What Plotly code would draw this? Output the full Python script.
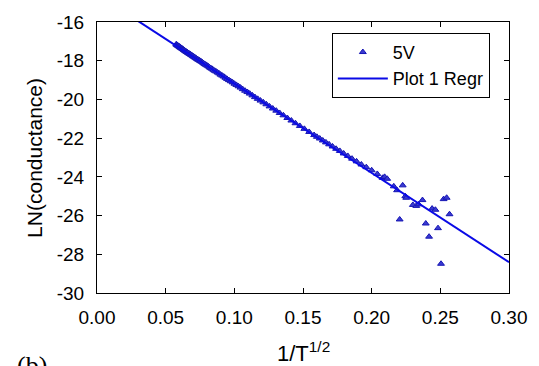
import plotly.graph_objects as go

# --- data ---
inv_sqrt_T = [
    0.0577, 0.0581, 0.0585, 0.0589, 0.0593, 0.0597, 0.0601, 0.0605, 0.0610, 0.0614,
    0.0619, 0.0623, 0.0628, 0.0633, 0.0638, 0.0643, 0.0648, 0.0653, 0.0658, 0.0664,
    0.0669, 0.0675, 0.0680, 0.0686, 0.0692, 0.0698, 0.0704, 0.0711, 0.0717, 0.0724,
    0.0731, 0.0738, 0.0745, 0.0752, 0.0760, 0.0768, 0.0776, 0.0784, 0.0792, 0.0801,
    0.0810, 0.0819, 0.0828, 0.0837, 0.0847, 0.0857, 0.0867, 0.0878, 0.0889, 0.0900,
    0.0911, 0.0923, 0.0935, 0.0947, 0.0960, 0.0973, 0.0987, 0.1001, 0.1015, 0.1030,
    0.1045, 0.1061, 0.1078, 0.1095, 0.1112, 0.1131, 0.1150, 0.1170, 0.1190, 0.1211,
    0.1233, 0.1256, 0.1280, 0.1305, 0.1330, 0.1357, 0.1386, 0.1415, 0.1445, 0.1477,
    0.1510, 0.1545, 0.1581, 0.1601, 0.1622, 0.1644, 0.1667, 0.1690, 0.1715, 0.1741,
    0.1768, 0.1796, 0.1826, 0.1857, 0.1890, 0.1925, 0.1961, 0.2000, 0.2041, 0.2080,
    0.2094, 0.2113, 0.2161, 0.2185, 0.2204, 0.2226, 0.2245, 0.2252, 0.2300, 0.2325,
    0.2342, 0.2370, 0.2394, 0.2418, 0.2440, 0.2464, 0.2483, 0.2505, 0.2524, 0.2546,
    0.2567,
]
ln_conductance = [
    -17.15, -17.18, -17.20, -17.22, -17.24, -17.26, -17.28, -17.30, -17.33, -17.35,
    -17.37, -17.39, -17.42, -17.45, -17.47, -17.50, -17.52, -17.55, -17.57, -17.60,
    -17.62, -17.65, -17.67, -17.70, -17.73, -17.76, -17.79, -17.82, -17.85, -17.89,
    -17.92, -17.95, -17.98, -18.01, -18.05, -18.09, -18.13, -18.17, -18.21, -18.25,
    -18.29, -18.34, -18.38, -18.42, -18.47, -18.52, -18.56, -18.61, -18.66, -18.72,
    -18.77, -18.82, -18.88, -18.94, -19.00, -19.06, -19.12, -19.19, -19.25, -19.32,
    -19.39, -19.47, -19.55, -19.62, -19.70, -19.79, -19.88, -19.97, -20.06, -20.15,
    -20.25, -20.36, -20.47, -20.58, -20.70, -20.82, -20.96, -21.09, -21.23, -21.37,
    -21.52, -21.68, -21.84, -21.93, -22.02, -22.12, -22.22, -22.32, -22.43, -22.55,
    -22.66, -22.79, -22.92, -23.06, -23.20, -23.36, -23.50, -23.66, -23.85, -24.05,
    -24.00, -24.10, -24.49, -24.69, -26.20, -24.44, -25.00, -25.08, -25.45, -25.50,
    -25.42, -25.20, -26.41, -27.09, -25.64, -25.70, -26.65, -28.49, -25.15, -25.08,
    -25.93,
]
regr_x = [0.0, 0.30]
regr_y = [-14.57, -28.41]

x_ticks = [0.00, 0.05, 0.10, 0.15, 0.20, 0.25, 0.30]
x_tick_labels = ["0.00", "0.05", "0.10", "0.15", "0.20", "0.25", "0.30"]
y_ticks = [-30, -28, -26, -24, -22, -20, -18, -16]
y_tick_labels = ["-30", "-28", "-26", "-24", "-22", "-20", "-18", "-16"]

fig = go.Figure()
fig.add_trace(go.Scatter(
    x=inv_sqrt_T, y=ln_conductance, mode="markers", name="5V",
    marker=dict(symbol="triangle-up", size=6, color="#3a3ad0",
                line=dict(color="#1414b4", width=1)),
))
fig.add_trace(go.Scatter(
    x=regr_x, y=regr_y, mode="lines", name="Plot 1 Regr",
    line=dict(color="#0a0ae6", width=2),
))

axis_common = dict(
    showline=True, linecolor="black", linewidth=1, mirror="ticks",
    ticks="inside", ticklen=5, tickcolor="black", tickwidth=1,
    showgrid=False, zeroline=False,
    tickfont=dict(family="Arial, Liberation Sans, sans-serif", size=19, color="black"),
)

fig.update_xaxes(range=[0, 0.30], tickvals=x_ticks, ticktext=x_tick_labels,
                 ticklabelstandoff=7, **axis_common)
fig.update_yaxes(range=[-30, -16], tickvals=y_ticks, ticktext=y_tick_labels,
                 ticklabelstandoff=8, **axis_common)

fig.update_layout(
    width=539, height=366,
    margin=dict(l=97, r=26, t=17, b=73),
    plot_bgcolor="white", paper_bgcolor="white",
    font=dict(family="Arial, Liberation Sans, sans-serif", color="black"),
    legend=dict(
        x=0.570, y=0.960, xanchor="left", yanchor="top",
        bgcolor="white", bordercolor="black", borderwidth=1,
        font=dict(family="Arial, Liberation Sans, sans-serif", size=18, color="black"),
        tracegroupgap=0, itemwidth=50,
    ),
    showlegend=True,
    annotations=[
        dict(text="LN(conductance)", xref="paper", yref="paper",
             x=-0.152, y=0.5, xanchor="center", yanchor="middle",
             textangle=-90, showarrow=False,
             font=dict(family="Arial, Liberation Sans, sans-serif", size=21, color="black")),
        dict(text="1/T<sup>1/2</sup>", xref="paper", yref="paper",
             x=0.5, y=-0.158, xanchor="center", yanchor="top",
             showarrow=False,
             font=dict(family="Arial, Liberation Sans, sans-serif", size=22, color="black")),
        dict(text="(b)", xref="paper", yref="paper",
             x=-0.2, y=-0.207, xanchor="left", yanchor="top",
             showarrow=False,
             font=dict(family="Liberation Serif, DejaVu Serif, serif", size=26, color="black")),
    ],
)

fig.write_html("out.html")
